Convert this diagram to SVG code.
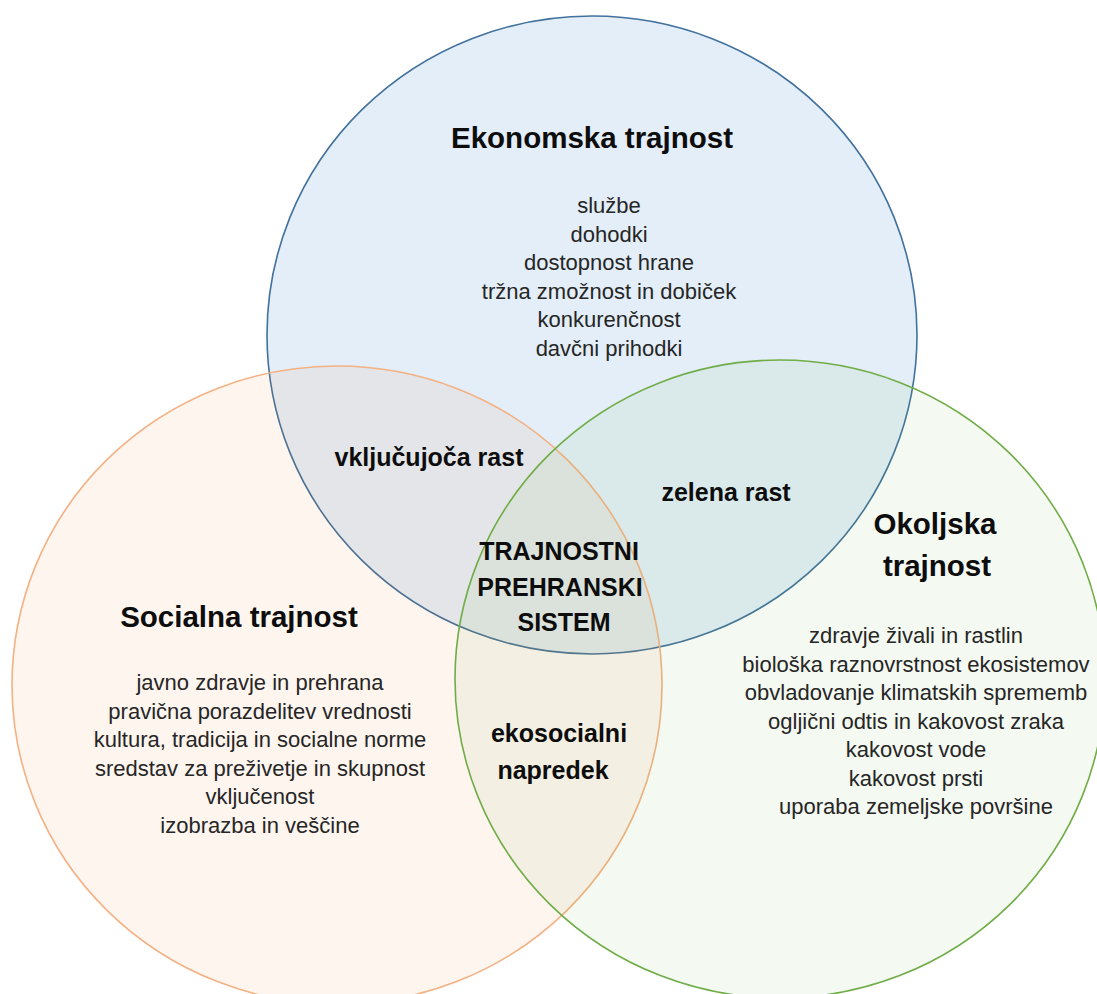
<svg xmlns="http://www.w3.org/2000/svg" width="1097" height="994" viewBox="0 0 1097 994">
<style>
.t{font-family:"Liberation Sans",Arial,sans-serif;fill:#0d0d0d;text-anchor:middle}
.h{font-size:29.5px;font-weight:bold}
.b{font-size:25px;font-weight:bold}
.i{font-size:22px;fill:#262626}
</style>
<rect width="1097" height="994" fill="#ffffff"/>
<g id="circles">
<g id="ekonomska"><ellipse cx="592" cy="335" rx="325" ry="319" fill="#5b9bd5" fill-opacity="0.17" stroke="#41719c" stroke-width="1.6"/></g>
<g id="socialna"><ellipse cx="337" cy="685" rx="325" ry="319" fill="#ed7d31" fill-opacity="0.08" stroke="#f4b183" stroke-width="1.6"/></g>
<g id="okoljska"><ellipse cx="780" cy="679" rx="325" ry="319" fill="#70ad47" fill-opacity="0.08" stroke="#70ad47" stroke-width="1.6"/></g>
</g>
<g id="connectors"></g>
<g id="ekonomska-text">
<text class="t h" x="592" y="148">Ekonomska trajnost</text>
<text class="t i" x="609" y="213">službe</text>
<text class="t i" x="609" y="241.5">dohodki</text>
<text class="t i" x="609" y="270">dostopnost hrane</text>
<text class="t i" x="609" y="298.5">tržna zmožnost in dobiček</text>
<text class="t i" x="609" y="327">konkurenčnost</text>
<text class="t i" x="609" y="355.5">davčni prihodki</text>
</g>
<g id="socialna-text">
<text class="t h" x="239" y="627">Socialna trajnost</text>
<text class="t i" x="260" y="690">javno zdravje in prehrana</text>
<text class="t i" x="260" y="718.5">pravična porazdelitev vrednosti</text>
<text class="t i" x="260" y="747">kultura, tradicija in socialne norme</text>
<text class="t i" x="260" y="775.5">sredstav za preživetje in skupnost</text>
<text class="t i" x="260" y="804">vključenost</text>
<text class="t i" x="260" y="832.5">izobrazba in veščine</text>
</g>
<g id="okoljska-text">
<text class="t h" x="935" y="534">Okoljska</text>
<text class="t h" x="937" y="576">trajnost</text>
<text class="t i" x="916" y="643">zdravje živali in rastlin</text>
<text class="t i" x="916" y="671.5">biološka raznovrstnost ekosistemov</text>
<text class="t i" x="916" y="700">obvladovanje klimatskih sprememb</text>
<text class="t i" x="916" y="728.5">ogljični odtis in kakovost zraka</text>
<text class="t i" x="916" y="757">kakovost vode</text>
<text class="t i" x="916" y="785.5">kakovost prsti</text>
<text class="t i" x="916" y="814">uporaba zemeljske površine</text>
</g>
<g id="vkljucujoca-rast"><text class="t b" x="429" y="466">vključujoča rast</text></g>
<g id="zelena-rast"><text class="t b" x="726" y="501">zelena rast</text></g>
<g id="trajnostni-sistem">
<text class="t b" x="559" y="560">TRAJNOSTNI</text>
<text class="t b" x="560" y="596">PREHRANSKI</text>
<text class="t b" x="564" y="631">SISTEM</text>
</g>
<g id="ekosocialni-napredek">
<text class="t b" x="559" y="742">ekosocialni</text>
<text class="t b" x="553" y="779">napredek</text>
</g>
</svg>
